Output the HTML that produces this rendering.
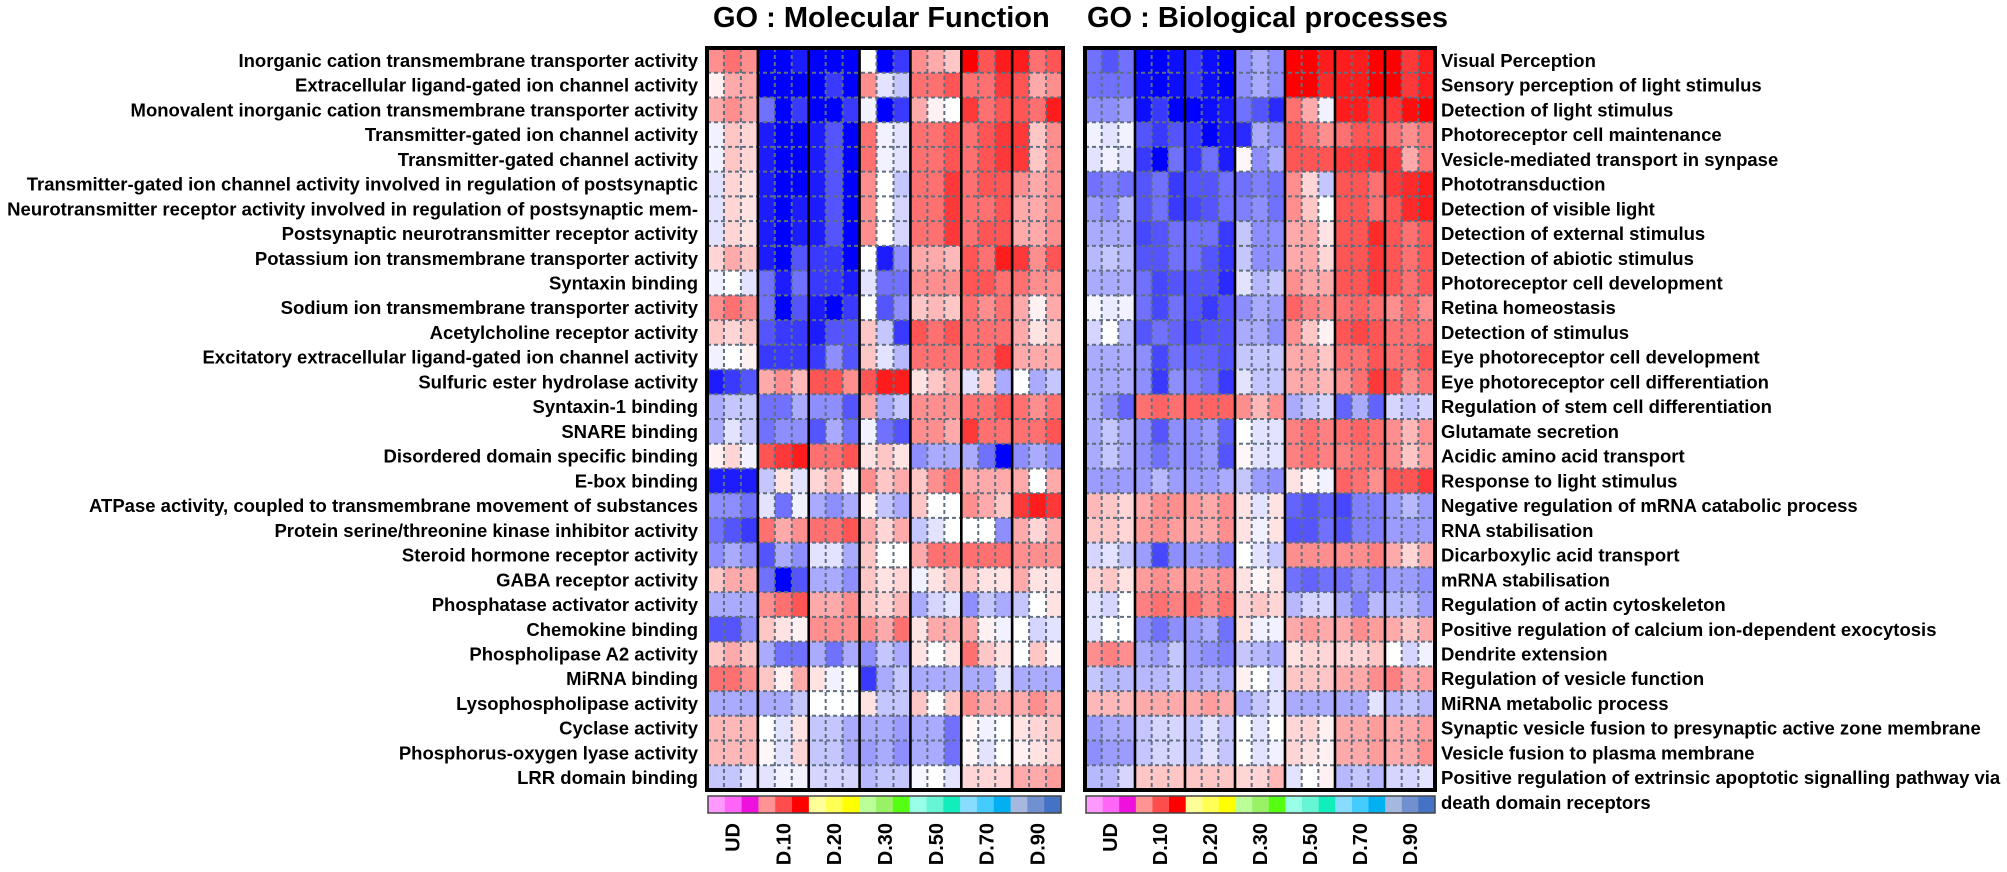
<!DOCTYPE html>
<html>
<head>
<meta charset="utf-8">
<style>
  html,body{margin:0;padding:0;background:#fff;}
  svg{display:block;}
  text{font-family:"Liberation Sans", Arial, sans-serif;font-weight:bold;fill:#000;}
</style>
</head>
<body>
<svg id="chart" xmlns="http://www.w3.org/2000/svg" width="2007" height="872" viewBox="0 0 2007 872">
  <rect x="0" y="0" width="2007" height="872" fill="#fff"/>
  <g id="heatL"></g>
  <g id="heatR"></g>
  <g id="bars"></g>

  <text x="713" y="27" font-size="29">GO : Molecular Function</text>
  <text x="1087" y="27" font-size="29">GO : Biological processes</text>

  <g font-size="18.5" text-anchor="end">
    <text x="698" y="66.9">Inorganic cation transmembrane transporter activity</text>
    <text x="698" y="91.6">Extracellular ligand-gated ion channel activity</text>
    <text x="698" y="116.4">Monovalent inorganic cation transmembrane transporter activity</text>
    <text x="698" y="141.1">Transmitter-gated ion channel activity</text>
    <text x="698" y="165.8">Transmitter-gated channel activity</text>
    <text x="698" y="190.6">Transmitter-gated ion channel activity involved in regulation of postsynaptic</text>
    <text x="698" y="215.3">Neurotransmitter receptor activity involved in regulation of postsynaptic mem-</text>
    <text x="698" y="240.0">Postsynaptic neurotransmitter receptor activity</text>
    <text x="698" y="264.8">Potassium ion transmembrane transporter activity</text>
    <text x="698" y="289.5">Syntaxin binding</text>
    <text x="698" y="314.2">Sodium ion transmembrane transporter activity</text>
    <text x="698" y="339.0">Acetylcholine receptor activity</text>
    <text x="698" y="363.7">Excitatory extracellular ligand-gated ion channel activity</text>
    <text x="698" y="388.4">Sulfuric ester hydrolase activity</text>
    <text x="698" y="413.2">Syntaxin-1 binding</text>
    <text x="698" y="437.9">SNARE binding</text>
    <text x="698" y="462.6">Disordered domain specific binding</text>
    <text x="698" y="487.4">E-box binding</text>
    <text x="698" y="512.1">ATPase activity, coupled to transmembrane movement of substances</text>
    <text x="698" y="536.8">Protein serine/threonine kinase inhibitor activity</text>
    <text x="698" y="561.6">Steroid hormone receptor activity</text>
    <text x="698" y="586.3">GABA receptor activity</text>
    <text x="698" y="611.0">Phosphatase activator activity</text>
    <text x="698" y="635.8">Chemokine binding</text>
    <text x="698" y="660.5">Phospholipase A2 activity</text>
    <text x="698" y="685.2">MiRNA binding</text>
    <text x="698" y="710.0">Lysophospholipase activity</text>
    <text x="698" y="734.7">Cyclase activity</text>
    <text x="698" y="759.4">Phosphorus-oxygen lyase activity</text>
    <text x="698" y="784.2">LRR domain binding</text>
  </g>

  <g font-size="18.5" text-anchor="start">
    <text x="1441" y="66.9">Visual Perception</text>
    <text x="1441" y="91.6">Sensory perception of light stimulus</text>
    <text x="1441" y="116.4">Detection of light stimulus</text>
    <text x="1441" y="141.1">Photoreceptor cell maintenance</text>
    <text x="1441" y="165.8">Vesicle-mediated transport in synpase</text>
    <text x="1441" y="190.6">Phototransduction</text>
    <text x="1441" y="215.3">Detection of visible light</text>
    <text x="1441" y="240.0">Detection of external stimulus</text>
    <text x="1441" y="264.8">Detection of abiotic stimulus</text>
    <text x="1441" y="289.5">Photoreceptor cell development</text>
    <text x="1441" y="314.2">Retina homeostasis</text>
    <text x="1441" y="339.0">Detection of stimulus</text>
    <text x="1441" y="363.7">Eye photoreceptor cell development</text>
    <text x="1441" y="388.4">Eye photoreceptor cell differentiation</text>
    <text x="1441" y="413.2">Regulation of stem cell differentiation</text>
    <text x="1441" y="437.9">Glutamate secretion</text>
    <text x="1441" y="462.6">Acidic amino acid transport</text>
    <text x="1441" y="487.4">Response to light stimulus</text>
    <text x="1441" y="512.1">Negative regulation of mRNA catabolic process</text>
    <text x="1441" y="536.8">RNA stabilisation</text>
    <text x="1441" y="561.6">Dicarboxylic acid transport</text>
    <text x="1441" y="586.3">mRNA stabilisation</text>
    <text x="1441" y="611.0">Regulation of actin cytoskeleton</text>
    <text x="1441" y="635.8">Positive regulation of calcium ion-dependent exocytosis</text>
    <text x="1441" y="660.5">Dendrite extension</text>
    <text x="1441" y="685.2">Regulation of vesicle function</text>
    <text x="1441" y="710.0">MiRNA metabolic process</text>
    <text x="1441" y="734.7">Synaptic vesicle fusion to presynaptic active zone membrane</text>
    <text x="1441" y="759.4">Vesicle fusion to plasma membrane</text>
    <text x="1441" y="784.2">Positive regulation of extrinsic apoptotic signalling pathway via</text>
    <text x="1441" y="809">death domain receptors</text>
  </g>

  <g font-size="20" text-anchor="end">
    <text transform="translate(739.5,823) rotate(-90)">UD</text>
    <text transform="translate(790.3,823) rotate(-90)">D.10</text>
    <text transform="translate(841.2,823) rotate(-90)">D.20</text>
    <text transform="translate(892.0,823) rotate(-90)">D.30</text>
    <text transform="translate(942.9,823) rotate(-90)">D.50</text>
    <text transform="translate(993.7,823) rotate(-90)">D.70</text>
    <text transform="translate(1044.6,823) rotate(-90)">D.90</text>

    <text transform="translate(1117,823) rotate(-90)">UD</text>
    <text transform="translate(1167,823) rotate(-90)">D.10</text>
    <text transform="translate(1217,823) rotate(-90)">D.20</text>
    <text transform="translate(1267,823) rotate(-90)">D.30</text>
    <text transform="translate(1317,823) rotate(-90)">D.50</text>
    <text transform="translate(1367,823) rotate(-90)">D.70</text>
    <text transform="translate(1417,823) rotate(-90)">D.90</text>
  </g>
</svg>

<script>
const L=[
[4,5,4,-9,-9,-8,-9,-9,-9,0,-9,-7,4,3,2,9,6,8,8,5,6],
[0.5,3,3,-9,-9,-9,-9,-7,-9,4,-1,-2,5,5,6,5,5,7,6,3,4],
[3,4,3,-5,-9,-7,-9,-9,-7,-0.5,-9,-7,3,0.5,0,7,5,6,6,5,8],
[-0.5,2,1.5,-8,-9,-9,-8,-6,-9,5,-0.5,-1,5,5,6,5,6,7,7,2,4],
[-0.5,2,1.5,-8,-9,-9,-8,-6,-9,5,-0.5,-1,5,5,6,5,6,7,7,2,4],
[-1,1.5,1,-8,-9,-9,-8,-6,-9,4,0,-2,5,5,7,5,6,6,4,3,4],
[-1,1.5,1,-8,-9,-8,-8,-6,-9,4,0,-1.5,5,5,7,5,5,6,3,3,4],
[-1,1.5,1,-8,-9,-8,-8,-6,-9,4,0,-1.5,5,5,7,5,6,6,3,3,4],
[1.5,3,2,-8,-9,-6,-7,-7,-9,0,-8,-4,3,3,2.5,6,5,8,7,4,6],
[-0.5,0,-1,-5,-8,-5,-7,-7,-8,-1,-5,-5,4,4,4,6,6,5,5,4,4],
[4,5,4,-5,-9,-6,-8,-9,-7,0,-6,-4,2,2.5,2,5,4,5,3,0.5,3],
[2,1.5,2,-6,-7,-7,-8,-6,-6,2,-2,-7,6,5,6,5,5,5,3,1,2],
[-0.5,0,0.5,-7,-7,-7,-7,-4,-6,2,-1,-2.5,5,5,5,5,5,7,3,3,3],
[-8,-7,-6,3,4,2.5,6,6,4,6,8,8,1,2,3,-1,2,-3,0,-3,-2],
[-3,-2,-2,-5,-5,-3,-4,-4,-6,3,-3,-2,4,4,4,5,5,6,5,4,5],
[-3,-1,-2,-5,-4,-4,-6,-3,-5,-0.5,-5,-6,4,4,3,7,5,5,5,5,6],
[0.5,1.5,-0.5,6,7,8,5,5,6,1,2,1,-4,-3,-3,-3,-5,-9,-4,-3,-4],
[-8,-8,-8,-2,1,-1,1.5,2.5,0.5,4,2,3,2,4,5,3,3,3,3,0,3],
[-4,-4,-5,-1,-5,-0.5,-3,-4,-3,0.5,-2,-3,2,0,0,4,3,2,7,8,7],
[-5,-6,-7,5,3,4,5,5,6,3,1.5,3,-2,-1,0,0,0,-4,3,1.5,3],
[-4,-3,-4,-6,-3,-4,-1,-1,-3,2,0,0,3,5,5,5,5,5,4,4,4],
[2,3,3,-5,-9,-6,-3,-3,-4,2,1,1.5,-0.5,1,2,2,1,1,3,1,1],
[-3,-3,-3,4,5,6,3,3,4,2,1.5,2.5,-3,-1.5,-1,-4,-2,-3,-2,0,1],
[-6,-6,-4,2,1,0.5,4,4,4,4,3,5,1,3,3,3,0.5,-0.5,0,-1.5,-1],
[2,3,2,-3,-5,-5,-3,-5,-3,-4,-2,-3,1,0,1,5,2,1,0,2,0.5],
[5,5,4,2,0.5,3,1,-0.5,0,-7,-3,-2,-3,-3,-3,-3,-3,-1,-3,-3,-3],
[-3,-3,-3,-3,-3,-2,0,0,0,1,-2,-2,2,0,2,4,3,3,3,4,3],
[2.5,2.5,2.5,0,-1,1,-2,-2,-3,-3,-3,-3.5,-3,-3,-5,0.3,-0.5,0,1,1.5,2],
[2.5,2.5,2.5,0.3,-1,1.5,-2,-2,-3,-3.5,-3,-4,-3,-3,-5,0.3,-1,0,0.5,1,1.5],
[-2,-2,-1,-1,-0.5,-0.5,-1.5,-1.5,-1.5,-2.5,-2,-2,-0.3,0,-1,1.5,1.5,1.5,3,3,3.5]
];
const R=[
[-5,-6,-5,-9,-9,-8.5,-7,-8.5,-9,-4,-3,-4,9,9,8,8,8,9,9,7,8],
[-5,-5,-5,-8.5,-9,-8.5,-7,-8.5,-9,-4,-3,-4,9,9,7.5,8,8,9,9,7,8],
[-4,-4,-3.5,-8.5,-7,-9,-9,-8.5,-8,-5,-6,-7.5,5,3,-0.5,8,8,7,7,8.5,9],
[-0.5,-1,-0.5,-6,-7,-6,-7,-9,-8,-7.5,-3,-4,6,5,4,5,6,6,5,4,5],
[-1,-0.5,-1,-7,-9,-5,-7,-5,-8,0.3,-4,-3,6,6,6,7,7,7.5,7,3,5],
[-5,-4.5,-5,-6,-5,-7,-6,-6,-5,-5,-4.5,-5,4,1.5,-2,6,6,5,7,7.5,8],
[-3.5,-4,-2.5,-6,-5,-7,-6.5,-6,-5,-4.5,-4,-5,4,2,0,6,6,5,6,7.5,8],
[-3,-3,-3,-6.5,-6,-5,-5,-5,-7,-2,-4,-4,3,3,1,6,6,7.5,6,5,6],
[-2.5,-2,-2.5,-6,-6,-5,-5,-6,-7,-2,-4,-4,3,3,1.5,6,6,7,6,5,6],
[-3,-3,-3,-5,-6.5,-6,-6,-6,-7.5,-1,-2.5,-2,4,3,3,6,6,7,6,5,6],
[-0.3,-0.7,-0.5,-5,-6.5,-5,-6,-7,-6,-4,-3,-3.5,5.5,4.5,4,5,5.5,5,4,5,4],
[-1.5,0,-2.5,-6,-5,-5.5,-6.5,-6,-6,-3,-3,-4,4,2,0.5,6,6.5,6,5,5,5],
[-3,-3,-3,-4,-6.5,-5,-5.5,-5.5,-6,-2,-2,-2,3,3,2,5,5,6,5,5,6],
[-3,-3,-3,-4,-7,-4,-4.5,-5,-7,-1,-2,-2,3,3,2.5,4,5,7,6,4,5],
[-3,-4,-5.5,5,5.5,5,5.5,5.5,5.5,4,2.5,4,-3,-2,-1.5,-5.5,-3,-5.5,-1.5,-2,-1.5],
[-3,-2,-3,-4,-6,-4,-4,-3.5,-5.5,0,-1,-1,4.5,5,4.5,5,5.5,5,4,2.5,4],
[-3,-2,-3,-4,-5,-4,-4,-3.5,-6,0.3,-1,-1,4.5,5,4.5,4.5,5,5,4,2,3.5],
[-3.5,-3.5,-3.5,-3.5,-2.5,-3.5,-3.5,-3.5,-3,-2,-3.5,-4,1,0.3,-0.5,5.5,5,4,6,6,7],
[2.5,2,1.5,3,4,4,3.5,3,4,1,-1,1,-5.5,-6,-5.5,-6.5,-4.5,-4.5,-3.5,-2.5,-3.5],
[2,2,1.5,3.5,4,3.5,3,3,4,1,-0.5,1,-6,-6,-5,-6,-4.5,-4.5,-3.5,-3.5,-3.5],
[-1.5,-1,-2,-3.5,-6.5,-4,-3.5,-3.5,-4.5,0,-1,-2,4,4,4,4,4,4.5,3,1.5,3],
[1.5,2,1,3.5,4,3.5,3.5,3.5,4,1,0.3,1,-5,-5.5,-5,-5,-4,-4.5,-3.5,-3.5,-4],
[-1,-1.5,0,4.5,5,4.5,5,4,5,1.5,2,1.5,-2.5,-1.5,-1.5,-3,-4.5,-2.5,-2.5,-2.5,-3.5],
[-1,0,0,-4,-5,-4,-3.5,-3,-5,1,-0.5,-0.5,3,3.5,3,3,4,3.5,3,2,3],
[4,4.5,4,-3,-3.5,-2,-3.5,-4,-4.5,-2,-2.5,-3,1,1.5,1.5,1.5,1.5,2,0,-1.5,-0.5],
[-2,-2.5,-2.5,-2.5,-2.5,-2,-3,-2.5,-3,0.5,0,-1,2,2,2,3,3,4,4.5,3,3.5],
[2.5,2.5,2.5,3,3,3,3,3.5,3,-3,-2,-1,-3,-3,-3,-3,-3,-1,-2.5,-2,-2.5],
[-3.5,-3,-3,-2,-1.5,-1.5,-2,-1,-2,0,-1,0,1.5,1.5,0.5,3,3,3.5,3,3,3.5],
[-4,-3.5,-3.5,-2,-1.5,-1.5,-2,-1,-2,0,-1,-0.5,1.5,1,0.5,3,3,3.5,3,3,4],
[-2.5,-2.5,-1.5,2,2,2,2,2,2,1.5,1.5,2.5,-1,0,0.5,-2.5,-2,-2.5,-1.5,-1.5,-1]
];
function col(v){
  const a=Math.min(Math.abs(v),9);
  const c=Math.round(255*(1-a/9));
  return v>=0?`rgb(255,${c},${c})`:`rgb(${c},${c},255)`;
}
function heat(x0,w,y0,h,data){
  const cw=w/21, rh=h/30; let s='';
  for(let r=0;r<30;r++){
    for(let c=0;c<21;c++){
      s+=`<rect x="${(x0+c*cw).toFixed(2)}" y="${(y0+r*rh).toFixed(2)}" width="${(cw+0.6).toFixed(2)}" height="${(rh+0.6).toFixed(2)}" fill="${col(data[r][c])}"/>`;
    }
  }
  // dashed grid
  for(let r=1;r<30;r++){
    const y=(y0+r*rh).toFixed(2);
    s+=`<line x1="${x0}" y1="${y}" x2="${x0+w}" y2="${y}" stroke="#5f6f80" stroke-width="2" stroke-dasharray="4,3"/>`;
  }
  for(let c=1;c<21;c++){
    if(c%3===0) continue;
    const x=(x0+c*cw).toFixed(2);
    s+=`<line x1="${x}" y1="${y0}" x2="${x}" y2="${y0+h}" stroke="#5f6f80" stroke-width="2" stroke-dasharray="4,3"/>`;
  }
  // group separators
  for(let g=1;g<7;g++){
    const x=(x0+g*3*cw).toFixed(2);
    s+=`<line x1="${x}" y1="${y0}" x2="${x}" y2="${y0+h}" stroke="#000" stroke-width="2.6"/>`;
  }
  s+=`<rect x="${x0}" y="${y0}" width="${w}" height="${h}" fill="none" stroke="#000" stroke-width="4"/>`;
  return s;
}
const BC=['#ff99ff','#ff66f8','#ee11dd','#ff9292','#ff4d4d','#ff0000','#ffff99','#ffff55','#ffff00','#bbff99','#99f266','#55ff11','#99ffe6','#66f5d5','#11eebb','#88ddff','#44ccff','#00b0f0','#a6b8e0','#7090d0','#4472c4'];
function bar(x0,w,y0,h){
  const cw=w/21; let s='';
  for(let i=0;i<21;i++){
    s+=`<rect x="${(x0+i*cw).toFixed(2)}" y="${y0}" width="${(cw+0.5).toFixed(2)}" height="${h}" fill="${BC[i]}"/>`;
  }
  s+=`<rect x="${x0}" y="${y0}" width="${w}" height="${h}" fill="none" stroke="#444" stroke-width="1.5"/>`;
  return s;
}
document.getElementById('heatL').innerHTML=heat(707,356,48,742,L);
document.getElementById('heatR').innerHTML=heat(1085,350,48,742,R);
document.getElementById('bars').innerHTML=bar(708,353,796,17)+bar(1086,349,796,17);
</script>
</body>
</html>
